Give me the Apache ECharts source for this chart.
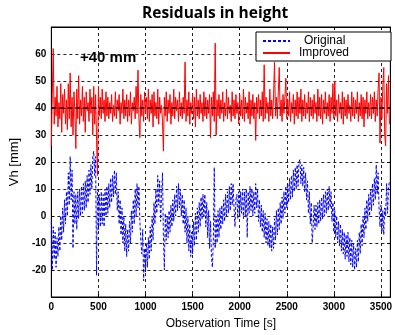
<!DOCTYPE html>
<html>
<head>
<meta charset="utf-8">
<script src="https://cdn.jsdelivr.net/npm/echarts@6/dist/echarts.min.js"></script>
<style>html,body{margin:0;padding:0;background:#fff}#c{width:395px;height:335px}</style>
</head>
<body>
<div id="c"></div>
<script>
// Sampling step of both series (seconds)
const SAMPLE_STEP = 10;
const OFFSET_MM = 40;
const xTicks = [0, 500, 1000, 1500, 2000, 2500, 3000, 3500];
const yTicks = [-20, -10, 0, 10, 20, 30, 40, 50, 60];
const seriesNames = ['Original', 'Improved'];

// Improved residuals (+40 mm offset), one value every 10 s
const improved = [
  26,45,62,34,44,37,48,33,42,36,49,31,45,38,47,34,43,32,49,36,
  53,33,44,30,46,38,25,47,36,52,34,43,37,48,35,44,31,46,39,42,
  35,47,38,44,30,48,34,45,28,15,48,37,44,36,47,38,43,35,46,37,
  44,36,42,38,45,35,41,37,46,36,43,39,45,34,42,38,47,36,43,37,
  45,35,43,37,46,34,42,39,44,36,48,38,54,36,29,45,37,43,35,46,
  38,44,36,47,35,43,38,45,33,46,37,42,36,47,34,44,38,41,35,24,
  44,37,46,35,43,38,45,34,42,37,47,36,44,39,43,35,46,37,42,36,
  44,38,57,35,43,37,46,34,42,38,45,36,44,33,47,37,43,36,45,38,
  42,35,46,37,44,36,43,38,45,29,44,37,46,35,64,30,43,37,45,36,
  43,38,46,35,42,37,47,36,44,38,41,35,46,37,43,36,45,38,42,34,
  45,37,43,36,47,35,44,38,42,36,46,34,43,37,45,36,42,28,44,38,
  45,36,43,37,46,35,56,36,44,38,42,35,47,37,43,36,45,57,37,44,
  36,46,55,37,43,35,45,38,44,51,36,43,37,46,35,42,38,45,34,43,
  37,46,36,44,38,47,35,43,37,45,36,42,38,46,35,44,37,43,36,45,
  38,42,35,47,37,44,36,45,34,43,38,46,36,42,37,45,35,44,38,49,
  36,50,37,43,35,45,38,42,36,46,34,44,37,43,36,45,38,41,35,46,
  37,44,36,43,38,46,35,42,37,45,36,44,33,43,38,46,36,42,37,45,
  36,44,38,46,35,43,37,47,53,27,44,36,48,55,30,26,49,38,52,34
];

// Original residuals, one value every 10 s
const original = [
  -2,-20,-4,-16,-6,-19,-8,-15,-4,-13,0,-9,3,-6,6,-3,9,0,16,4,
  22,6,17,-12,9,-3,8,-5,9,-1,10,0,11,1,12,2,13,3,15,5,
  17,8,19,10,22,24,15,22,-22,10,-5,8,-4,9,-3,8,-4,10,0,11,
  1,12,3,14,5,15,7,17,8,16,2,9,-3,6,-7,3,-10,0,-13,-3,
  -15,-5,-13,-2,-10,2,-6,6,-3,10,0,12,3,11,-2,-9,-14,-5,-24,-12,
  -21,-10,-19,-8,-16,-4,-13,0,-9,5,-3,10,1,15,4,13,-2,7,16,-8,
  -20,1,-9,0,-8,2,-6,4,-4,6,-2,8,0,11,2,12,3,10,0,8,
  -3,6,-6,3,-10,0,-13,-3,-15,-6,-14,-2,-11,1,-9,3,-6,5,-4,7,
  -1,8,0,8,-4,5,-8,2,-12,-2,-15,-19,-9,18,-12,0,-10,2,-8,3,
  -5,4,-3,6,-2,8,0,9,1,11,2,12,4,12,3,-4,6,8,-1,9,
  0,9,1,10,-1,9,0,10,-8,9,1,11,2,10,0,9,1,12,3,10,
  -2,6,-4,4,-6,2,-8,1,-10,-1,-11,-2,-12,-3,-13,-4,-12,-1,-9,2,
  -7,3,-5,5,-3,7,-1,9,1,11,3,12,5,14,6,15,7,17,9,18,
  10,19,11,20,21,12,19,11,18,9,16,6,13,1,9,-3,5,-10,-4,4,
  -5,4,-4,5,-3,6,-2,7,-1,8,0,9,1,10,2,11,3,9,-2,5,
  -6,2,-8,0,-10,-2,-11,-3,-13,-5,-14,-6,-16,-7,-15,-6,-17,-8,-18,-9,
  -19,-10,-20,-12,-19,-9,-17,-6,-14,-3,-11,0,-8,3,-5,6,-2,8,0,10,
  2,12,4,14,6,19,8,16,3,-4,4,-6,2,-7,3,0,12,1,10,13
];

const toPairs = arr => arr.map((v, i) => [i * SAMPLE_STEP, v]);

const chart = echarts.init(document.getElementById('c'), null, {renderer: 'canvas'});
const tickFont = {fontFamily: 'Liberation Sans', fontWeight: 'bold', fontSize: 10, color: '#000'};
const splitStyle = {show: true, lineStyle: {color: '#222', type: [3, 3], width: 1}};

chart.setOption({
  animation: false,
  backgroundColor: '#fff',
  title: {
    text: 'Residuals in height',
    left: 137, top: 1,
    textStyle: {fontFamily: 'Open Sans', fontWeight: 'bold', fontSize: 15.5, color: '#000'}
  },
  grid: {left: 49, top: 27, right: 2, bottom: 36, show: true, borderColor: '#000', borderWidth: 1, backgroundColor: 'transparent'},
  legend: {
    data: [
      {name: seriesNames[0], textStyle: {padding: [0, 0, 0, 9]}},
      {name: seriesNames[1], textStyle: {padding: [0, 0, 0, 4]}}
    ],
    orient: 'vertical',
    left: 256, top: 32,
    padding: [3, 42, 2, 6],
    itemGap: 0,
    itemWidth: 27,
    itemHeight: 14,
    backgroundColor: '#fff',
    borderColor: '#000',
    borderWidth: 1,
    borderRadius: 0,
    itemStyle: {opacity: 0},
    textStyle: {fontFamily: 'Liberation Sans', fontSize: 12, color: '#000'}
  },
  graphic: [{
    type: 'text', left: 80, top: 50,
    style: {text: '+' + OFFSET_MM + ' mm', font: 'bold 15px "Liberation Sans"', fill: '#000'}
  }],
  xAxis: [{
    type: 'value', min: 0, max: 3600, interval: 500, position: 'bottom',
    name: 'Observation Time [s]', nameLocation: 'middle', nameGap: 21,
    nameTextStyle: {fontFamily: 'Liberation Sans', fontSize: 12, color: '#000'},
    axisLine: {show: true, onZero: false, lineStyle: {color: '#000', width: 1}},
    axisTick: {show: true, inside: true, length: 3, lineStyle: {color: '#000'}},
    axisLabel: Object.assign({margin: 5, formatter: v => xTicks.includes(v) ? String(v) : ''}, tickFont),
    splitLine: splitStyle
  }, {
    type: 'value', position: 'top', min: 0, max: 3600, interval: 500,
    axisLine: {show: true, onZero: false, lineStyle: {color: '#000'}},
    axisTick: {show: true, inside: true, length: 3, lineStyle: {color: '#000'}},
    axisLabel: {show: false}, splitLine: {show: false}
  }],
  yAxis: [{
    type: 'value', min: -30, max: 70, interval: 10, position: 'left',
    name: 'Vh [mm]', nameLocation: 'middle', nameGap: 22,
    nameTextStyle: {fontFamily: 'Liberation Sans', fontSize: 13, color: '#000'},
    axisLine: {show: true, onZero: false, lineStyle: {color: '#000', width: 1}},
    axisTick: {show: true, inside: true, length: 3, lineStyle: {color: '#000'}},
    axisLabel: Object.assign({margin: 5, formatter: v => yTicks.includes(v) ? String(v) : ''}, tickFont),
    splitLine: splitStyle
  }, {
    type: 'value', position: 'right', min: -30, max: 70, interval: 10,
    axisLine: {show: true, onZero: false, lineStyle: {color: '#000'}},
    axisTick: {show: true, inside: true, length: 3, lineStyle: {color: '#000'}},
    axisLabel: {show: false}, splitLine: {show: false}
  }],
  series: [{
    name: seriesNames[0], type: 'line', data: toPairs(original),
    showSymbol: false, symbol: 'none',
    color: '#0000ff',
    lineStyle: {color: '#0000ff', width: 1, type: [3, 2]}
  }, {
    name: seriesNames[1], type: 'line', data: toPairs(improved),
    showSymbol: false, symbol: 'none',
    color: '#ff0000',
    lineStyle: {color: '#ff0000', width: 1},
    markLine: {
      silent: true, symbol: 'none', label: {show: false},
      lineStyle: {color: '#000', type: [5, 3], width: 1.5},
      data: [{yAxis: OFFSET_MM}]
    }
  }]
});
</script>
</body>
</html>
